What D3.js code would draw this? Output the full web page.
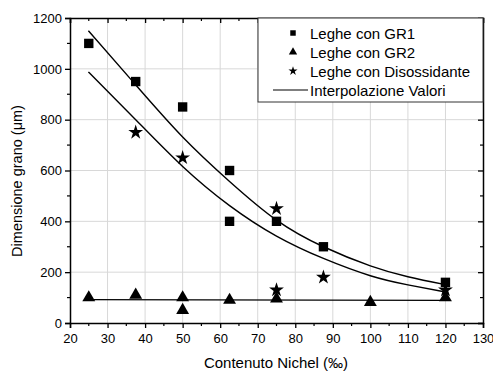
<!DOCTYPE html>
<html>
<head>
<meta charset="utf-8">
<script src="https://cdn.jsdelivr.net/npm/d3@7"></script>
<style>
  body { margin: 0; background: #fff; }
  text { font-family: "Liberation Sans", Arial, sans-serif; fill: #000; }
</style>
</head>
<body>
<div id="chart"></div>
<script>
// measured points
var gr1X = [25, 37.5, 50, 62.5, 62.5, 75, 87.5, 120];
var gr1Y = [1100, 950, 850, 600, 400, 400, 300, 160];
var gr2X = [25, 37.5, 50, 50, 62.5, 75, 100, 120];
var gr2Y = [100, 110, 100, 50, 90, 95, 82, 100];
var disX = [37.5, 50, 75, 75, 87.5, 120];
var disY = [750, 650, 450, 130, 180, 130];

// fitted curves
var fitGr1X = [24.9, 37.5, 50, 62.5, 75, 87.5, 100, 110, 120];
var fitGr1Y = [1150, 937, 732, 557, 405, 300, 225, 182, 151];
var fitDisX = [24.9, 37.5, 50, 62.5, 75, 87.5, 100, 110, 120];
var fitDisY = [988, 800, 616, 462, 342, 254, 186, 150, 122];
var fitGr2X = [24, 120];
var fitGr2Y = [92, 89];

var xTicks = [20, 30, 40, 50, 60, 70, 80, 90, 100, 110, 120, 130];
var yTicks = [0, 200, 400, 600, 800, 1000, 1200];
var legendLabels = ["Leghe con GR1", "Leghe con GR2", "Leghe con Disossidante", "Interpolazione Valori"];

var W = 493, H = 372;
var pLeft = 70, pRight = 483, pTop = 18, pBottom = 323;

var svg = d3.select("#chart").append("svg")
    .attr("width", W).attr("height", H);

var x = d3.scaleLinear().domain([20, 130]).range([pLeft, pRight]);
var y = d3.scaleLinear().domain([0, 1200]).range([pBottom, pTop]);

// grid
var grid = svg.append("g").attr("stroke", "#d8d8d8").attr("stroke-width", 1);
grid.selectAll(".vx").data(xTicks.slice(1, -1)).enter().append("line")
    .attr("x1", d => x(d)).attr("x2", d => x(d))
    .attr("y1", pTop).attr("y2", pBottom);
grid.selectAll(".hy").data(yTicks.slice(1, -1)).enter().append("line")
    .attr("x1", pLeft).attr("x2", pRight)
    .attr("y1", d => y(d)).attr("y2", d => y(d));

// axes
var xMinor = d3.range(25, 130, 10);
var yMinor = d3.range(100, 1200, 200);

var xAxis = svg.append("g").attr("transform", "translate(0," + pBottom + ")")
    .call(d3.axisBottom(x).tickValues(xTicks).tickSize(5).tickPadding(6).tickFormat(d3.format("d")));
var yAxis = svg.append("g").attr("transform", "translate(" + pLeft + ",0)")
    .call(d3.axisLeft(y).tickValues(yTicks).tickSize(5).tickPadding(3).tickFormat(d3.format("d")));
var xTop = svg.append("g").attr("transform", "translate(0," + pTop + ")")
    .call(d3.axisTop(x).tickValues(xTicks).tickSize(-5).tickFormat(""));
var yRight = svg.append("g").attr("transform", "translate(" + pRight + ",0)")
    .call(d3.axisRight(y).tickValues(yTicks).tickSize(-5).tickFormat(""));

[xAxis, yAxis, xTop, yRight].forEach(function (a) {
    a.select(".domain").attr("stroke", "#000").attr("stroke-width", 1.5);
    a.selectAll(".tick line").attr("stroke", "#000").attr("stroke-width", 1.3);
    a.selectAll("text").style("font-size", "13px").style("font-family", "Liberation Sans, Arial, sans-serif");
});

// minor ticks
svg.append("g").selectAll("line").data(xMinor).enter().append("line")
    .attr("x1", d => x(d)).attr("x2", d => x(d))
    .attr("y1", pBottom).attr("y2", pBottom + 3).attr("stroke", "#000").attr("stroke-width", 1.2);
svg.append("g").selectAll("line").data(xMinor).enter().append("line")
    .attr("x1", d => x(d)).attr("x2", d => x(d))
    .attr("y1", pTop).attr("y2", pTop + 3).attr("stroke", "#000").attr("stroke-width", 1.2);
svg.append("g").selectAll("line").data(yMinor).enter().append("line")
    .attr("x1", pLeft - 3).attr("x2", pLeft)
    .attr("y1", d => y(d)).attr("y2", d => y(d)).attr("stroke", "#000").attr("stroke-width", 1.2);
svg.append("g").selectAll("line").data(yMinor).enter().append("line")
    .attr("x1", pRight - 3).attr("x2", pRight)
    .attr("y1", d => y(d)).attr("y2", d => y(d)).attr("stroke", "#000").attr("stroke-width", 1.2);

// fit lines
var line = d3.line().x(d => x(d[0])).y(d => y(d[1])).curve(d3.curveNatural);
[[fitGr1X, fitGr1Y], [fitDisX, fitDisY], [fitGr2X, fitGr2Y]].forEach(function (f) {
    svg.append("path")
        .datum(f[0].map((v, i) => [v, f[1][i]]))
        .attr("fill", "none").attr("stroke", "#000").attr("stroke-width", 1.4)
        .attr("d", line);
});

// markers
var sq = d3.symbol().type(d3.symbolSquare).size(88);
var tri = d3.symbol().type(d3.symbolTriangle).size(72);
var star = d3.symbol().type(d3.symbolStar).size(68);

function plotPoints(xs, ys, sym) {
    svg.append("g").selectAll("path").data(xs).enter().append("path")
        .attr("transform", (d, i) => "translate(" + x(d) + "," + y(ys[i]) + ")")
        .attr("d", sym).attr("fill", "#000");
}
plotPoints(gr1X, gr1Y, sq);
plotPoints(gr2X, gr2Y, tri);
plotPoints(disX, disY, star);

// legend
var lg = svg.append("g");
lg.append("rect").attr("x", 258).attr("y", pTop).attr("width", pRight - 258).attr("height", 84)
    .attr("fill", "#fff").attr("stroke", "#333").attr("stroke-width", 1);
var lgSyms = [d3.symbol().type(d3.symbolSquare).size(30),
              d3.symbol().type(d3.symbolTriangle).size(30),
              d3.symbol().type(d3.symbolStar).size(26)];
legendLabels.forEach(function (t, i) {
    var cy = 33 + i * 19;
    if (i < 3) {
        lg.append("path").attr("d", lgSyms[i]).attr("fill", "#000")
            .attr("transform", "translate(293," + cy + ")");
    } else {
        lg.append("line").attr("x1", 273).attr("x2", 308).attr("y1", cy).attr("y2", cy)
            .attr("stroke", "#000").attr("stroke-width", 1.2);
    }
    lg.append("text").attr("x", 310).attr("y", cy + 5.5).style("font-size", "15px").text(t);
});

// titles
svg.append("text").attr("x", 276).attr("y", 368)
    .attr("text-anchor", "middle").style("font-size", "15px").text("Contenuto Nichel (‰)");
svg.append("text").attr("transform", "translate(22," + 181 + ") rotate(-90)")
    .attr("text-anchor", "middle").style("font-size", "14.5px").text("Dimensione grano (μm)");
</script>
</body>
</html>
